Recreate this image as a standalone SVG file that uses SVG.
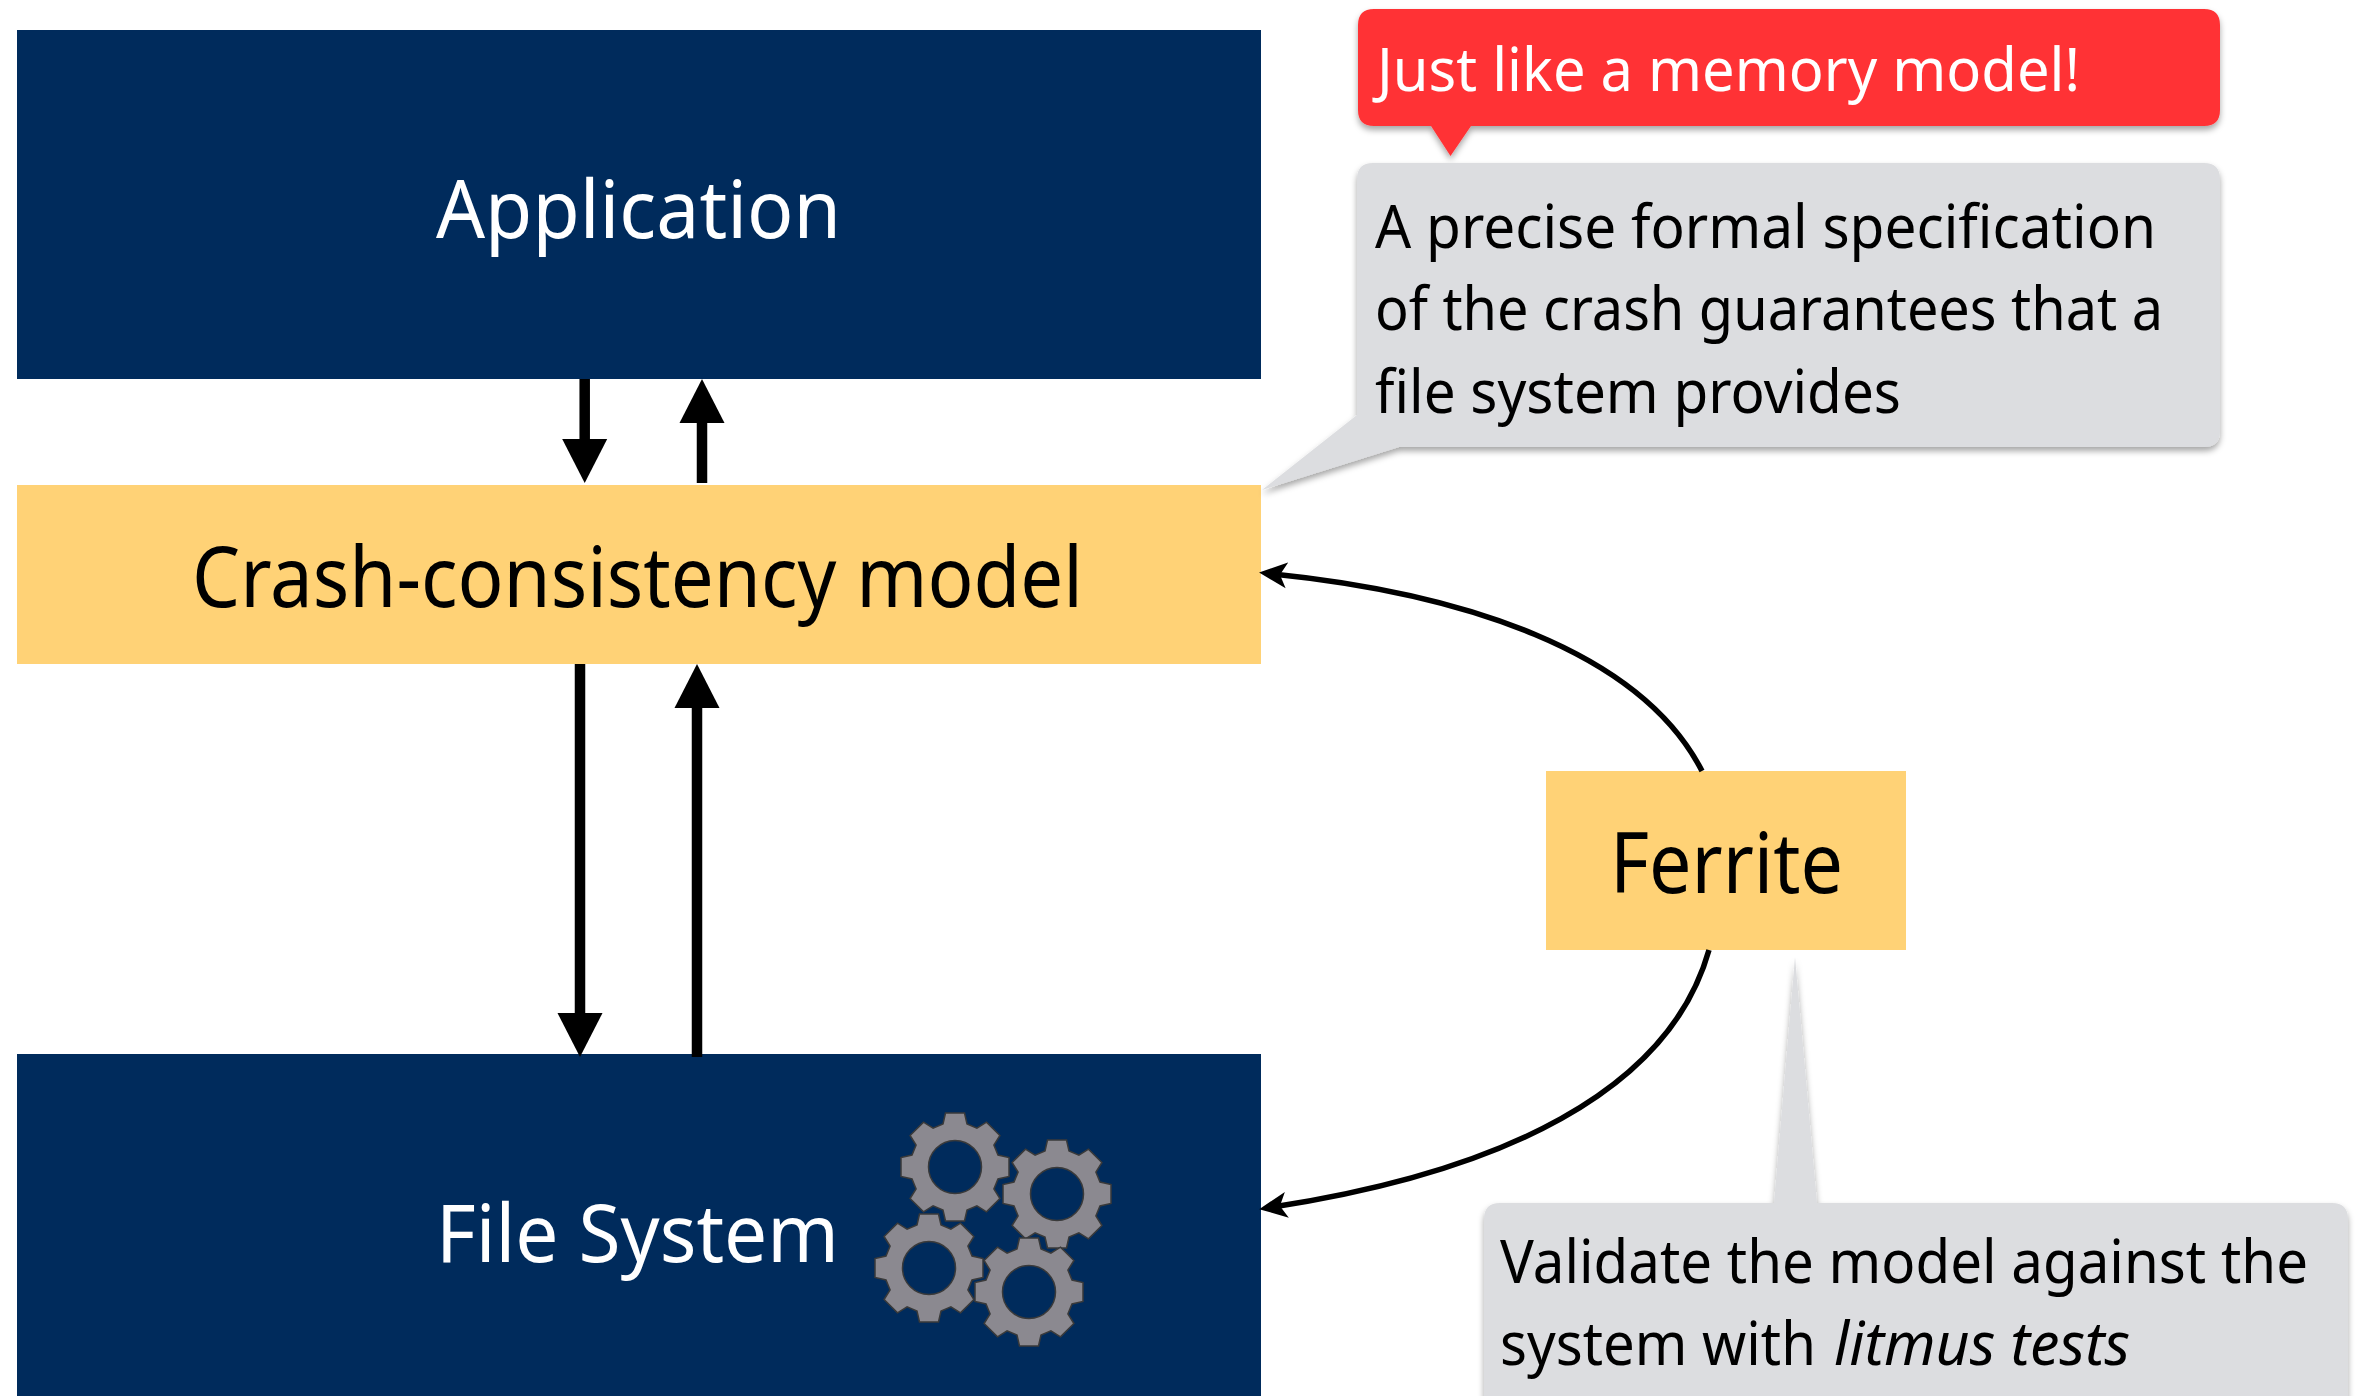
<svg xmlns="http://www.w3.org/2000/svg" width="2362" height="1396" viewBox="0 0 2362 1396">
<style>
text{font-family:"Noto Sans","Open Sans","Liberation Sans",sans-serif}
.navy{fill:#002b5c}.yellow{fill:#ffd276}.gray{fill:#dcdde0}.red{fill:#ff3336}
.big{font-size:84px;fill:#000}.title{font-size:80px;fill:#fff}.note{font-size:60px;fill:#000}.shad{filter:url(#sh)}
.thick{fill:none;stroke:#000;stroke-width:10.5}.thin{fill:none;stroke:#000;stroke-width:5.5}
.gear{fill:#8b8990;stroke:#3a3a3a;stroke-width:1.5;fill-rule:evenodd}
</style>
<defs>
<filter id="sh" x="-5%" y="-10%" width="110%" height="125%"><feDropShadow dx="0" dy="4" stdDeviation="3" flood-color="#000" flood-opacity="0.35"/></filter>
<marker id="hb" markerUnits="userSpaceOnUse" markerWidth="46" markerHeight="46" refX="0" refY="23" orient="auto"><path d="M0 .5L44 23L0 45.500Z" fill="#000"/></marker>
<marker id="hs" markerUnits="userSpaceOnUse" markerWidth="28" markerHeight="28" refX="14" refY="14" orient="auto"><path d="M0 1L28 14L0 27L7 14Z" fill="#000"/></marker>
<path id="g" class="gear" d="M-12-43L-9.500-54H9.500L12-43L21.900-38.900L31.500-44.900L44.900-31.500L38.900-21.900L43-12L54-9.500V9.500L43 12L38.900 21.900L44.900 31.500L31.500 44.900L21.900 38.900L12 43L9.500 54H-9.500L-12 43L-21.900 38.900L-31.500 44.900L-44.900 31.500L-38.900 21.900L-43 12L-54 9.500V-9.500L-43-12L-38.900-21.900L-44.900-31.500L-31.500-44.900L-21.900-38.900ZM26.500 0A26.500 26.500 0 1 0-26.500 0A26.500 26.500 0 1 0 26.500 0Z"/>
</defs>
<rect width="2362" height="1396" fill="#fff"/>
<g id="application"><rect class="navy" x="17" y="30" width="1244" height="349"/><text class="title" x="436" y="238" textLength="405" lengthAdjust="spacingAndGlyphs">Application</text></g>
<g id="crash-consistency-model"><rect class="yellow" x="17" y="485" width="1244" height="179"/><text class="big" x="192" y="607" textLength="891" lengthAdjust="spacingAndGlyphs">Crash-consistency model</text></g>
<g id="file-system"><rect class="navy" x="17" y="1054" width="1244" height="342"/><text class="title" x="436" y="1262" textLength="403" lengthAdjust="spacingAndGlyphs">File System</text>
<use href="#g" x="955" y="1167"/><use href="#g" x="1057" y="1194"/><use href="#g" x="929" y="1268"/><use href="#g" x="1029" y="1292"/></g>
<g id="ferrite"><rect class="yellow" x="1546" y="771" width="360" height="179"/><text class="big" x="1610" y="893" textLength="233" lengthAdjust="spacingAndGlyphs">Ferrite</text></g>
<g id="connectors">
<path class="thick" d="M584.700 379V439" marker-end="url(#hb)"/>
<path class="thick" d="M702 483V423" marker-end="url(#hb)"/>
<path class="thick" d="M580 664V1013" marker-end="url(#hb)"/>
<path class="thick" d="M697 1057V708" marker-end="url(#hb)"/>
<path class="thin" d="M1702 771C1640 650 1460 593 1273 574" marker-end="url(#hs)"/>
<path class="thin" d="M1709 950C1669 1092 1500 1172 1273 1207" marker-end="url(#hs)"/>
</g>
<g id="callout-memory-model"><path class="red shad" d="M1374 9H2204Q2220 9 2220 25V110Q2220 126 2204 126H1471L1450.500 156L1431 126H1374Q1358 126 1358 110V25Q1358 9 1374 9Z"/><text x="1377" y="91" font-size="60" fill="#fff" textLength="703" lengthAdjust="spacingAndGlyphs">Just like a memory model!</text></g>
<g id="callout-specification"><path class="gray shad" d="M1374 163H2204Q2220 163 2220 179V431Q2220 447 2204 447H1399L1262 490L1357 415V179Q1357 163 1373 163Z"/>
<text class="note" x="1375" y="248" textLength="781" lengthAdjust="spacingAndGlyphs">A precise formal specification</text>
<text class="note" x="1375" y="330" textLength="788" lengthAdjust="spacingAndGlyphs">of the crash guarantees that a</text>
<text class="note" x="1375" y="413" textLength="526" lengthAdjust="spacingAndGlyphs">file system provides</text></g>
<g id="callout-validate"><path class="gray shad" d="M1500 1203H1774L1795 957L1817 1203H2332Q2348 1203 2348 1219V1420H1484V1219Q1484 1203 1500 1203Z"/>
<text class="note" x="1500" y="1283" textLength="808" lengthAdjust="spacingAndGlyphs">Validate the model against the</text>
<text class="note" x="1500" y="1365" textLength="316" lengthAdjust="spacingAndGlyphs">system with</text>
<text class="note" x="1834" y="1365" font-style="italic" textLength="296" lengthAdjust="spacingAndGlyphs">litmus tests</text></g>
</svg>
